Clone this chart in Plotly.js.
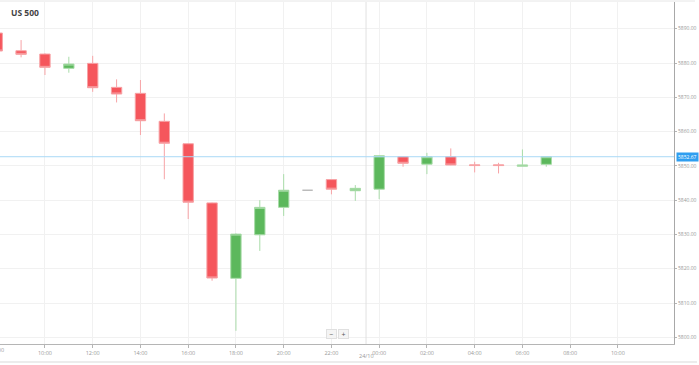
<!DOCTYPE html>
<html>
<head>
<meta charset="utf-8">
<script src="https://cdn.plot.ly/plotly-3.0.1.min.js"></script>
<style>html,body{margin:0;padding:0;background:#fff;}#chart{width:699px;height:365px;}</style>
</head>
<body>
<div id="chart"></div>
<script>
// Hourly candles, US 500
const times = [
  "2024-10-23 08:00","2024-10-23 09:00","2024-10-23 10:00","2024-10-23 11:00",
  "2024-10-23 12:00","2024-10-23 13:00","2024-10-23 14:00","2024-10-23 15:00",
  "2024-10-23 16:00","2024-10-23 17:00","2024-10-23 18:00","2024-10-23 19:00",
  "2024-10-23 20:00","2024-10-23 22:00","2024-10-23 23:00",
  "2024-10-24 00:00","2024-10-24 01:00","2024-10-24 02:00","2024-10-24 03:00",
  "2024-10-24 04:00","2024-10-24 05:00","2024-10-24 06:00","2024-10-24 07:00"
];
const opens  = [5888.75,5883.58,5882.62,5878.45,5879.90,5872.90,5871.16,5863.00,5856.46,5839.20,5817.20,5829.90,5837.90,5846.00,5842.75,5843.20,5852.67,5850.50,5852.67,5850.30,5850.30,5849.90,5850.45];
const highs  = [5888.80,5886.70,5882.83,5881.83,5882.10,5875.24,5875.04,5865.30,5856.50,5839.30,5830.30,5840.00,5847.60,5846.10,5844.40,5853.00,5852.80,5853.80,5855.10,5851.20,5850.90,5854.80,5852.70];
const lows   = [5883.30,5881.66,5876.50,5877.17,5871.60,5868.50,5859.00,5846.10,5834.50,5816.50,5801.90,5825.20,5835.40,5841.70,5839.80,5840.30,5849.75,5847.60,5850.20,5848.10,5847.80,5849.90,5849.75];
const closes = [5883.50,5882.53,5878.74,5879.70,5872.80,5870.96,5863.17,5856.60,5839.40,5817.30,5830.10,5837.90,5842.90,5843.20,5843.45,5852.96,5850.75,5852.67,5850.25,5850.10,5850.10,5850.25,5852.67];

// Flat (unchanged) candle drawn in grey
const flatTimes  = ["2024-10-23 21:00"];
const flatOpens  = [5842.9];
const flatHighs  = [5842.9];
const flatLows   = [5842.9];
const flatCloses = [5842.9];

const currentPrice = 5852.67;
const crosshairTime = "2024-10-23 23:27";
const crosshairLabel = "24/10";
const title = "US 500";

const xTickVals = [
  "2024-10-23 10:00","2024-10-23 12:00","2024-10-23 14:00","2024-10-23 16:00",
  "2024-10-23 18:00","2024-10-23 20:00","2024-10-23 22:00","2024-10-24 00:00",
  "2024-10-24 02:00","2024-10-24 04:00","2024-10-24 06:00","2024-10-24 08:00",
  "2024-10-24 10:00"
];
const xTickText = ["10:00","12:00","14:00","16:00","18:00","20:00","22:00","00:00","02:00","04:00","06:00","08:00","10:00"];
const cutTickLabel = "08:00";
const yTicks = [5800,5810,5820,5830,5840,5850,5860,5870,5880,5890];

const RED = "#f5565c", RED_LINE = "#f7a3a6";
const GREEN = "#5cb85c", GREEN_LINE = "#a9dca9";

const traces = [
  {
    type: "candlestick", x: times, open: opens, high: highs, low: lows, close: closes,
    increasing: {fillcolor: GREEN, line: {color: GREEN_LINE, width: 1}},
    decreasing: {fillcolor: RED, line: {color: RED_LINE, width: 1}},
    hoverinfo: "skip", showlegend: false
  },
  {
    type: "candlestick", x: flatTimes, open: flatOpens, high: flatHighs, low: flatLows, close: flatCloses,
    increasing: {fillcolor: "#bbbbbb", line: {color: "#bbbbbb", width: 1.6}},
    decreasing: {fillcolor: "#bbbbbb", line: {color: "#bbbbbb", width: 1.6}},
    hoverinfo: "skip", showlegend: false
  }
];

const W = 699, H = 365, mL = 0, mR = 25, mT = 2, mB = 21;
const pw = W - mL - mR, ph = H - mT - mB;
const px = x => (x - mL) / pw;
const py = y => (H - mB - y) / ph;

const layout = {
  width: W, height: H,
  margin: {l: mL, r: mR, t: mT, b: mB, pad: 0},
  paper_bgcolor: "#ffffff", plot_bgcolor: "#ffffff",
  showlegend: false,
  boxgap: 0.38,
  font: {family: "Open Sans, Roboto, sans-serif", color: "#999"},
  xaxis: {
    type: "date",
    range: ["2024-10-23 08:07", "2024-10-24 12:21"],
    rangeslider: {visible: false},
    tickmode: "array", tickvals: xTickVals, ticktext: xTickText,
    showgrid: true, gridcolor: "#f1f1f1", gridwidth: 1,
    showline: true, linecolor: "#b5b5b5", linewidth: 1,
    ticks: "outside", ticklen: 3, tickcolor: "#b5b5b5",
    tickfont: {size: 5.5, color: "#999"},
    zeroline: false, fixedrange: true
  },
  yaxis: {
    side: "right",
    range: [5798.05, 5897.8],
    tickvals: yTicks, tickformat: ".2f",
    showgrid: true, gridcolor: "#f1f1f1", gridwidth: 1,
    showline: true, linecolor: "#a8a8a8", linewidth: 1,
    ticks: "outside", ticklen: 2, tickcolor: "#b5b5b5",
    tickfont: {size: 5, color: "#999"},
    zeroline: false, fixedrange: true
  },
  shapes: [
    {type: "line", xref: "x", yref: "paper", x0: crosshairTime, x1: crosshairTime, y0: 0, y1: 1,
     line: {color: "#e2e2e2", width: 1}},
    {type: "line", xref: "paper", yref: "y", x0: 0, x1: 1, y0: currentPrice, y1: currentPrice,
     line: {color: "#a9d9f6", width: 1}},
    {type: "line", xref: "paper", yref: "paper", x0: px(0), x1: px(695), y0: py(1), y1: py(1),
     line: {color: "#e6e6e6", width: 1}},
    {type: "line", xref: "paper", yref: "paper", x0: px(0), x1: px(697), y0: py(362), y1: py(362),
     line: {color: "#e6e6e6", width: 1.5}}
  ],
  annotations: [
    {xref: "paper", yref: "paper", x: px(9), y: py(12), xanchor: "left", yanchor: "middle",
     text: "<b>" + title + "</b>", showarrow: false, font: {size: 8.5, color: "#444", family: "Open Sans, sans-serif"}},
    {xref: "paper", yref: "y", x: 1, y: currentPrice, xanchor: "left", yanchor: "middle", xshift: 2,
     text: currentPrice.toFixed(2), showarrow: false, bgcolor: "#2f9ef0", borderpad: 1,
     font: {size: 5, color: "#ffffff"}},
    {xref: "paper", yref: "paper", x: px(-3), y: py(350), xanchor: "center", yanchor: "middle",
     text: cutTickLabel, showarrow: false, font: {size: 5.5, color: "#999"}},
    {xref: "x", yref: "paper", x: crosshairTime, y: py(356), xanchor: "center", yanchor: "middle",
     text: crosshairLabel, showarrow: false, font: {size: 5.5, color: "#999"}},
    {xref: "paper", yref: "paper", x: px(331), y: py(333.5), xanchor: "center", yanchor: "middle",
     text: "−", showarrow: false, bgcolor: "#f4f4f4", bordercolor: "#e0e0e0", borderwidth: 1, borderpad: 0,
     width: 9, height: 8, font: {size: 7, color: "#555"}},
    {xref: "paper", yref: "paper", x: px(343), y: py(333.5), xanchor: "center", yanchor: "middle",
     text: "+", showarrow: false, bgcolor: "#f4f4f4", bordercolor: "#e0e0e0", borderwidth: 1, borderpad: 0,
     width: 9, height: 8, font: {size: 7, color: "#555"}}
  ]
};

Plotly.newPlot("chart", traces, layout, {displayModeBar: false, staticPlot: true});
</script>
</body>
</html>
